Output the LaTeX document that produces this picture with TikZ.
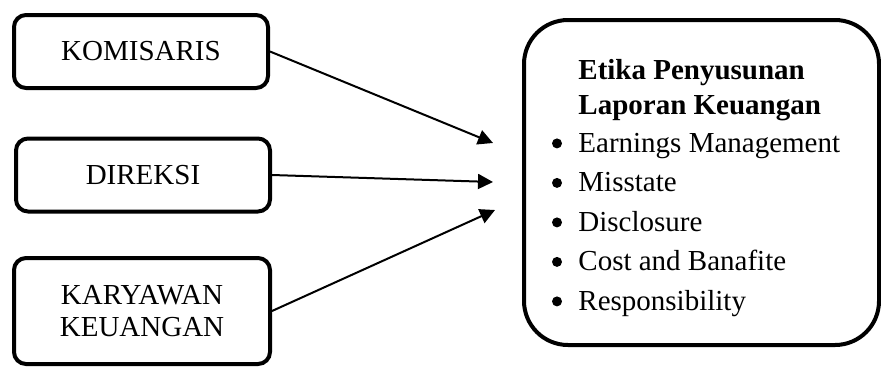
\documentclass[tikz,border=0pt]{standalone}
\usepackage{fontspec}
\setmainfont{Liberation Serif}
\usetikzlibrary{arrows.meta}
\tikzset{>={Triangle[length=7.5pt,width=7.5pt]}}
\tikzset{sidebox/.style={draw, line width=2pt, rounded corners=6pt, align=center, inner sep=0pt,
    minimum width=127pt, font=\fontsize{14.5}{16}\selectfont}}
\tikzset{etikabox/.style={draw, line width=2pt, rounded corners=22pt, minimum width=177.5pt, minimum height=162.5pt}}
\tikzset{etikatext/.style={anchor=base west, inner sep=0pt, font=\fontsize{14.5}{18}\selectfont}}

\begin{document}
\begin{tikzpicture}[x=0.5pt, y=-0.5pt]
\useasboundingbox (0,0) rectangle (881,370);
% left side
\node[sidebox, minimum height=36.5pt] (komisaris) at (141,51.5) {KOMISARIS};
\node[sidebox, minimum height=36.5pt] (direksi) at (143,175) {DIREKSI};
\node[sidebox, minimum width=128pt, minimum height=53pt] (karyawan) at (142,311) {KARYAWAN\\KEUANGAN};
% right side
\node[etikabox] (etika) at (701.5,182.5) {};
\node[etikatext, font=\fontsize{14.5}{18}\bfseries] (judul1) at (578,79) {Etika Penyusunan};
\node[etikatext, font=\fontsize{14.5}{18}\bfseries] (judul2) at (578,114) {Laporan Keuangan};
\node[etikatext] (butir1) at (578,152) {Earnings Management};
\node[etikatext] (butir2) at (578,191.5) {Misstate};
\node[etikatext] (butir3) at (578,231) {Disclosure};
\node[etikatext] (butir4) at (578,270.5) {Cost and Banafite};
\node[etikatext] (butir5) at (578,310) {Responsibility};
\foreach \i in {1,...,5}
  \fill ([xshift=-10.5pt, yshift=4.3pt]butir\i.base west) circle (2.5pt);
% arrows
\coordinate (t1) at (493,143);
\coordinate (t2) at (493,182);
\coordinate (t3) at (495,210);
\draw[->, line width=1pt] (komisaris.east) -- (t1);
\draw[->, line width=1pt] (direksi.east) -- (t2);
\draw[->, line width=1pt] (karyawan.east) -- (t3);
\end{tikzpicture}
\end{document}
